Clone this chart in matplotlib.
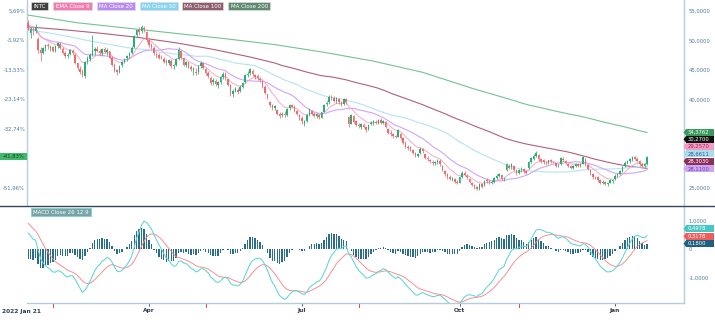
import numpy as np
import pandas as pd
import matplotlib
matplotlib.use("Agg")
import matplotlib.pyplot as plt
from matplotlib.patches import Rectangle, Polygon

# ---------------- data ----------------
holidays = ["2022-02-21", "2022-04-15", "2022-05-30", "2022-06-20", "2022-07-04",
            "2022-09-05", "2022-11-24", "2022-12-26", "2023-01-02", "2023-01-16"]
dates = pd.bdate_range("2022-01-21", "2023-01-23")
dates = dates[~dates.isin(pd.to_datetime(holidays))]

opens = [
    52.9, 51.3, 51.5, 51.6, 50.3, 48.4,
    47.9, 48.8, 49.2, 48.7, 48.9,
    48.3, 49.0, 49.4, 48.6, 47.9,
    47.3, 47.7, 48.3, 47.6, 46.1,
    45.2, 44.9, 43.9, 46.3,
    46.8, 47.6, 48.2, 48.6, 48.2,
    47.8, 48.6, 48.1, 48.2, 47.0,
    45.9, 45.0, 44.7, 45.8, 46.3,
    47.0, 47.3, 47.9, 48.9, 50.9,
    51.7, 51.6, 52.1, 51.5, 50.0,
    49.3, 48.8, 47.7, 47.5, 47.2,
    46.9, 46.5, 46.2, 46.6,
    45.6, 45.9, 46.9, 48.2, 47.0,
    45.8, 46.3, 45.5, 45.0, 44.6,
    44.6, 45.6, 46.1, 45.1, 44.5,
    43.7, 43.0, 43.2, 42.5, 42.9,
    43.8, 44.3, 43.4, 42.4, 40.9,
    41.5, 41.6, 41.4, 42.2, 43.0,
    44.2, 44.5, 44.9, 44.1,
    43.9, 43.5, 43.2, 42.2, 40.9,
    39.6, 39.0, 38.6, 38.3, 37.5,
    37.3, 37.6, 37.3, 38.5,
    39.0, 38.8, 38.0, 37.4, 36.8,
    36.0, 36.4, 37.4, 38.1,
    37.5, 37.2, 37.4, 36.9, 37.9,
    39.2, 39.5, 40.4, 40.3, 39.8,
    40.1, 39.5, 39.2, 40.0, 37.0,
    35.9, 37.2, 36.3, 35.7, 35.4,
    35.7, 35.3, 34.9, 35.8, 36.1,
    36.2, 36.0, 36.5, 36.1, 36.2,
    35.0, 34.4, 34.1, 33.8, 33.7,
    34.2, 33.4, 32.7, 32.0, 31.9,
    31.4, 30.9, 30.5, 30.9,
    31.6, 30.8, 30.1, 29.8, 29.4,
    29.2, 29.4, 29.6, 28.8, 27.9,
    27.3, 26.9, 26.4, 26.6, 26.1,
    25.9, 26.9, 27.5, 27.1, 26.6,
    25.9, 25.5, 25.1, 24.8, 25.6,
    25.5, 26.3, 26.2, 25.9, 26.0,
    26.7, 27.1, 27.2, 26.5, 28.0,
    28.8, 28.5, 28.8, 28.0, 27.6,
    28.0, 28.2, 27.8, 28.4, 29.4,
    30.0, 30.5, 30.6, 29.9, 29.7,
    29.3, 29.3, 29.7, 29.4,
    29.2, 28.8, 29.0, 30.0, 29.6,
    29.0, 28.7, 28.4, 28.8, 29.1,
    28.8, 29.1, 30.0, 28.9, 28.0,
    27.3, 26.9, 26.8, 26.3, 25.9,
    26.0, 25.7, 25.9, 26.2,
    26.6, 27.0, 27.4, 27.9,
    28.7, 29.2, 29.6, 29.8, 30.2,
    30.0, 29.6, 29.1, 28.8, 29.1,
]
highs = [
    53.4, 52.2, 52.3, 52.8, 50.6, 48.9,
    48.9, 49.4, 49.6, 49.3, 49.0,
    49.2, 49.8, 49.7, 48.9, 48.3,
    47.9, 48.6, 48.6, 47.8, 46.4,
    45.6, 45.2, 46.5, 47.3,
    47.8, 51.0, 48.9, 49.1, 48.6,
    48.8, 48.9, 48.7, 48.3, 47.3,
    46.1, 45.2, 45.9, 46.5, 47.1,
    47.5, 48.0, 49.0, 51.0, 52.0,
    52.2, 52.7, 52.4, 51.6, 50.2,
    49.6, 49.0, 48.1, 47.8, 47.6,
    47.2, 46.9, 46.9, 46.8,
    46.0, 47.0, 48.9, 48.4, 47.2,
    46.6, 46.4, 45.8, 45.5, 45.3,
    45.9, 46.5, 46.2, 45.3, 44.8,
    43.9, 43.6, 43.5, 43.1, 44.0,
    44.6, 44.7, 43.5, 42.6, 41.7,
    42.2, 41.9, 42.4, 43.0, 44.3,
    44.8, 45.3, 45.1, 44.4,
    44.3, 43.8, 43.3, 42.4, 41.0,
    39.8, 39.3, 39.1, 38.4, 37.9,
    37.8, 38.0, 38.6, 39.2,
    39.3, 39.0, 38.3, 37.6, 37.2,
    36.5, 37.6, 38.5, 38.3,
    37.8, 37.7, 37.6, 37.9, 39.2,
    39.8, 40.7, 40.8, 40.6, 40.4,
    40.3, 39.8, 40.2, 40.3, 37.2,
    37.6, 37.4, 36.5, 36.0, 36.0,
    36.1, 35.5, 35.9, 36.4, 36.5,
    36.6, 36.7, 36.8, 36.6, 36.3,
    35.1, 34.8, 34.3, 34.0, 35.0,
    34.3, 33.6, 32.9, 32.3, 32.1,
    31.6, 31.1, 31.0, 31.9,
    31.8, 30.9, 30.4, 30.0, 29.7,
    29.6, 29.9, 29.9, 28.9, 28.1,
    27.5, 27.2, 26.9, 26.7, 26.4,
    27.0, 27.8, 27.8, 27.3, 26.7,
    26.1, 25.7, 25.4, 25.8, 25.9,
    26.3, 26.7, 26.5, 26.3, 26.8,
    27.3, 27.6, 27.3, 26.8, 29.3,
    29.0, 29.2, 28.9, 28.2, 28.2,
    28.5, 28.4, 28.0, 29.6, 30.3,
    30.7, 31.3, 30.7, 30.1, 29.9,
    29.6, 29.8, 29.9, 29.6,
    29.3, 29.1, 30.2, 30.3, 29.8,
    29.2, 28.9, 28.9, 29.3, 29.2,
    29.2, 30.4, 30.1, 29.1, 28.1,
    27.5, 27.1, 27.0, 26.5, 26.3,
    26.2, 26.0, 26.5, 26.6,
    27.3, 27.6, 28.0, 28.8,
    29.5, 29.8, 30.1, 30.5, 30.4,
    30.2, 29.7, 29.2, 29.3, 30.5,
]
lows = [
    51.8, 50.5, 50.9, 51.2, 47.9, 46.5,
    47.7, 48.3, 48.6, 48.2, 48.0,
    48.1, 48.8, 48.5, 47.7, 47.0,
    47.0, 47.5, 47.6, 46.0, 45.0,
    44.3, 43.8, 43.7, 46.0,
    46.6, 47.3, 47.6, 48.0, 47.5,
    47.4, 47.9, 47.6, 46.8, 45.7,
    44.6, 44.1, 44.5, 45.5, 46.1,
    46.6, 47.0, 47.7, 48.7, 50.6,
    51.0, 51.3, 51.5, 49.8, 48.9,
    48.5, 47.6, 47.1, 46.9, 46.8,
    46.2, 45.8, 45.9, 45.4,
    45.2, 45.7, 46.7, 46.9, 45.7,
    45.5, 45.3, 44.9, 44.2, 44.2,
    44.4, 45.4, 45.1, 44.2, 43.6,
    42.5, 42.5, 42.3, 42.0, 42.7,
    43.5, 43.3, 42.3, 40.6, 40.4,
    41.2, 41.0, 41.2, 42.0, 42.8,
    43.8, 44.2, 44.0, 43.5,
    43.3, 43.0, 42.0, 40.9, 40.0,
    38.8, 38.2, 38.3, 37.3, 36.9,
    37.0, 37.1, 37.2, 38.3,
    38.5, 37.9, 37.3, 36.5, 35.9,
    35.5, 36.2, 37.2, 37.3,
    37.0, 36.9, 36.7, 36.8, 37.8,
    38.9, 39.3, 39.9, 39.6, 39.4,
    39.3, 38.9, 39.0, 39.3, 35.3,
    35.8, 36.0, 35.5, 35.2, 35.0,
    35.2, 34.5, 34.8, 35.6, 35.7,
    35.8, 35.9, 35.8, 35.9, 35.1,
    34.2, 33.8, 33.5, 33.5, 33.6,
    33.2, 32.5, 31.8, 31.5, 31.2,
    30.7, 30.2, 30.2, 30.8,
    31.0, 29.9, 29.6, 29.2, 28.9,
    28.9, 29.1, 28.8, 27.8, 27.1,
    26.6, 26.3, 26.2, 25.9, 25.6,
    25.8, 26.7, 27.0, 26.6, 25.8,
    25.3, 24.9, 24.7, 24.6, 25.0,
    25.4, 25.9, 25.7, 25.7, 25.9,
    26.5, 26.9, 26.3, 26.2, 27.9,
    28.2, 28.3, 27.9, 27.2, 27.4,
    27.7, 27.6, 27.3, 28.3, 29.2,
    29.8, 30.3, 29.6, 29.3, 29.1,
    28.9, 29.1, 29.3, 29.2,
    28.6, 28.6, 28.9, 29.6, 29.0,
    28.5, 28.2, 28.3, 28.6, 28.6,
    28.6, 29.0, 28.8, 28.0, 27.2,
    26.6, 26.5, 26.1, 25.6, 25.7,
    25.5, 25.4, 25.8, 25.9,
    26.4, 26.8, 27.2, 27.7,
    28.6, 29.0, 29.3, 29.6, 29.7,
    29.4, 28.8, 28.5, 28.5, 28.9,
]
closes = [
    52.04, 51.9, 51.4, 52.3, 48.4, 47.8,
    48.8, 49.2, 49.0, 48.9, 48.3,
    49.0, 49.6, 48.7, 47.9, 47.3,
    47.6, 48.4, 47.8, 46.2, 45.3,
    44.6, 44.1, 46.3, 47.1,
    47.6, 48.3, 48.6, 48.3, 47.9,
    48.6, 48.0, 48.4, 47.0, 45.9,
    44.9, 44.6, 45.7, 46.3, 46.9,
    47.3, 47.8, 48.7, 50.8, 51.8,
    51.4, 52.3, 51.9, 50.0, 49.3,
    48.9, 47.8, 47.6, 47.1, 47.0,
    46.4, 46.1, 46.7, 45.6,
    45.8, 46.8, 48.4, 47.1, 45.9,
    46.4, 45.4, 45.1, 45.3, 44.5,
    45.7, 46.2, 45.3, 44.5, 43.9,
    42.8, 43.3, 42.6, 42.9, 43.8,
    44.3, 43.6, 42.5, 40.9, 41.4,
    41.9, 41.3, 42.2, 42.8, 44.1,
    44.4, 45.1, 44.3, 43.8,
    43.6, 43.3, 42.2, 41.1, 40.2,
    39.0, 38.5, 38.9, 37.5, 37.2,
    37.6, 37.3, 38.4, 39.0,
    38.8, 38.1, 37.5, 36.8, 36.3,
    36.3, 37.4, 38.2, 37.6,
    37.2, 37.5, 37.0, 37.8, 39.0,
    39.4, 40.5, 40.3, 39.8, 40.2,
    39.5, 39.1, 40.0, 39.6, 35.9,
    37.4, 36.2, 35.7, 35.5, 35.8,
    35.4, 34.8, 35.7, 36.1, 36.3,
    36.0, 36.5, 36.1, 36.4, 35.3,
    34.4, 34.1, 33.8, 33.7, 34.8,
    33.4, 32.7, 32.0, 31.8, 31.4,
    30.9, 30.5, 30.8, 31.6,
    31.2, 30.1, 29.9, 29.5, 29.3,
    29.4, 29.6, 29.0, 28.0, 27.4,
    26.8, 26.5, 26.7, 26.1, 25.8,
    26.8, 27.6, 27.2, 26.8, 26.0,
    25.5, 25.1, 24.9, 25.6, 25.2,
    26.1, 26.2, 25.9, 26.1, 26.7,
    27.1, 27.4, 26.5, 26.6, 29.0,
    28.4, 29.0, 28.1, 27.5, 28.0,
    28.3, 27.8, 27.5, 29.4, 30.1,
    30.5, 31.0, 29.9, 29.6, 29.4,
    29.2, 29.7, 29.5, 29.3,
    28.8, 28.9, 30.1, 29.8, 29.2,
    28.7, 28.4, 28.8, 29.1, 28.8,
    29.0, 30.2, 29.0, 28.2, 27.4,
    26.8, 26.7, 26.3, 25.8, 26.1,
    25.7, 25.8, 26.3, 26.4,
    27.0, 27.4, 27.8, 28.6,
    29.3, 29.6, 29.9, 30.3, 30.0,
    29.6, 29.0, 28.7, 29.1, 30.27,
]

ma50_head_pos = [0, 8, 16, 24, 32, 40, 48]
ma50_head = [51.8, 51.3, 50.7, 50.0, 49.4, 48.8, 48.4]
ma100_head_pos = [0, 15, 30, 45, 60, 75, 90, 98]
ma100_head = [52.3, 51.8, 51.2, 50.5, 49.6, 48.5, 47.2, 46.4]
ma200_head_pos = [0, 20, 40, 60, 80, 100, 120, 140, 160, 180, 198]
ma200_head = [54.3, 53.0, 52.1, 51.2, 50.3, 49.3, 48.0, 46.5, 44.6, 41.9, 39.7]
ema9_start = 52.6
macd_start = 0.56
signal_start = 0.90

# last-value labels shown on the right axis
price_badges = [34.3762, 30.2700, 29.2570, 28.6611, 28.3030, 28.1100]
macd_badges = [0.4978, 0.3178, 0.1800]
pct_badge = -41.83

dividend_dates = ["2022-02-04", "2022-05-05", "2022-08-04", "2022-11-04"]
tick_dates = ["2022-04-01", "2022-07-01", "2022-10-03", "2023-01-03"]
tick_labels = ["Apr", "Jul", "Oct", "Jan"]

# ---------------- computations ----------------
o = np.array(opens); h = np.array(highs); l = np.array(lows); c = np.array(closes)
n = len(c)
idx = np.arange(n)
s = pd.Series(c)


def ema(vals, span, start):
    a = 2.0 / (span + 1)
    out = [start]
    for v in vals[1:]:
        out.append(out[-1] + a * (v - out[-1]))
    return np.array(out)


ema9 = ema(c, 9, ema9_start)
ma20 = s.rolling(20, min_periods=1).mean().values


def long_ma(win, head_pos, head_vals):
    comp = s.rolling(win).mean().values
    xs = list(head_pos) + list(range(win - 1, n))
    ys = list(head_vals) + list(comp[win - 1:])
    return np.array(xs), np.array(ys)


ma50_x, ma50_y = long_ma(50, ma50_head_pos, ma50_head)
ma100_x, ma100_y = long_ma(100, ma100_head_pos, ma100_head)
ma200_x, ma200_y = long_ma(200, ma200_head_pos, ma200_head)

ema12 = ema(c, 12, c[0] + macd_start)
ema26 = ema(c, 26, c[0])
macd = ema12 - ema26
a9 = 2.0 / 10
sig = [signal_start]
for v in macd[1:]:
    sig.append(sig[-1] + a9 * (v - sig[-1]))
sig = np.array(sig)
hist = macd - sig

pos = {d: i for i, d in enumerate(dates)}
div_idx = [pos[pd.Timestamp(d)] for d in dividend_dates]
tick_idx = [pos[pd.Timestamp(d)] for d in tick_dates]

# ---------------- figure ----------------
W, H = 715, 323
fig = plt.figure(figsize=(W / 100, H / 100), dpi=100)
fig.patch.set_facecolor("white")


def fx(px):
    return px / W


def fy(py):
    return 1 - py / H


ax = fig.add_axes([fx(27), fy(205), fx(684) - fx(27), 205 / H])
ax2 = fig.add_axes([fx(27), fy(303), fx(684) - fx(27), (303 - 206) / H])

x0 = (27 - 28.2) / 2.4656
x1 = (684 - 28.2) / 2.4656
for a in (ax, ax2):
    a.set_xlim(x0, x1)
    a.set_facecolor("white")
ax.set_ylim(22.12, 56.86)
ax2.set_ylim(-1.895, 1.509)

UP, DN = "#27ae72", "#ef6b6b"
cols = np.where(c >= o, UP, DN)
ax.vlines(idx, l, h, colors=cols, linewidth=0.55, zorder=3)
body = np.maximum(np.abs(c - o), 0.06)
ax.bar(idx, body, bottom=np.minimum(o, c), width=0.62, color=cols, linewidth=0, zorder=4)

ax.plot(ma200_x, ma200_y, color="#74c294", lw=0.8, zorder=2)
ax.plot(ma100_x, ma100_y, color="#b06079", lw=0.8, zorder=2)
ax.plot(ma50_x, ma50_y, color="#b5e3f3", lw=0.8, zorder=2)
ax.plot(idx, ma20, color="#cfa6f6", lw=0.8, zorder=2)
ax.plot(idx, ema9, color="#f7a8c9", lw=0.7, zorder=2)

AXC = "#b4ccdd"
TXT = "#4f7aa3"
for a in (ax, ax2):
    for sp in a.spines.values():
        sp.set_visible(False)
ax.spines["left"].set_visible(True); ax.spines["left"].set_color(AXC); ax.spines["left"].set_linewidth(1.0)
ax.spines["right"].set_visible(True); ax.spines["right"].set_color(AXC); ax.spines["right"].set_linewidth(1.0)
ax2.spines["right"].set_visible(True); ax2.spines["right"].set_color(AXC); ax2.spines["right"].set_linewidth(1.0)
ax2.spines["bottom"].set_visible(True); ax2.spines["bottom"].set_color(AXC); ax2.spines["bottom"].set_linewidth(1.0)

# right price labels
pticks = [55, 50, 45, 40, 25]
ax.yaxis.tick_right()
ax.set_yticks(pticks)
ax.set_yticklabels([f"{v:.4f}".replace(".", ",") for v in pticks])
ax.tick_params(axis="y", length=0, pad=3.5, labelsize=3.8, labelcolor=TXT)
ax.set_xticks([])

# left percent labels
base = c[0]
for p in [55, 50, 45, 40, 35, 25]:
    pct = (p / base - 1) * 100
    ax.text(-0.003, p, f"{pct:.2f}%".replace(".", ","), transform=ax.get_yaxis_transform(),
            ha="right", va="center", fontsize=3.8, color=TXT)

# MACD
ax2.bar(idx, hist, width=0.55, color="#2a6c8c", linewidth=0, zorder=2)
ax2.plot(idx, sig, color="#f4898a", lw=0.65, zorder=3)
ax2.plot(idx, macd, color="#5fd6d2", lw=0.75, zorder=4)
ax2.yaxis.tick_right()
ax2.set_yticks([1, 0, -1])
ax2.set_yticklabels(["1,0000", "0", "-1,0000"])
ax2.tick_params(axis="y", length=0, pad=3.5, labelsize=3.8, labelcolor=TXT)
ax2.set_xticks(tick_idx)
ax2.set_xticklabels(tick_labels)
ax2.tick_params(axis="x", length=2.2, width=0.6, color="#34495e", pad=1.5,
                labelsize=4.2, labelcolor="#2c3e50")
for t in ax2.get_xticklabels():
    t.set_fontweight("bold")
for di in div_idx:
    ax2.plot([di, di], [-0.012, -0.04], transform=ax2.get_xaxis_transform(),
             color="#e8453c", lw=0.7, clip_on=False)
fig.text(fx(2), fy(311), "2022 Jan 21", fontsize=4.2, fontweight="bold", color="#2c3e50",
         ha="left", va="center")

# separator line
fig.add_artist(plt.Line2D([0, 1], [fy(205.5), fy(205.5)], transform=fig.transFigure,
                          color="#34495e", lw=1.0))


def box(x0p, y0p, x1p, y1p, fc, ec="none", z=10):
    fig.add_artist(Rectangle((fx(x0p), fy(y1p)), fx(x1p) - fx(x0p), fy(y0p) - fy(y1p),
                             transform=fig.transFigure, facecolor=fc, edgecolor=ec,
                             linewidth=0.5, zorder=z))


# legend boxes
legend = [("INTC", 30.7, 48.3, "#3f3f3f"), ("EMA Close 9", 53.3, 91.7, "#f27bb0"),
          ("MA Close 20", 96.7, 135.0, "#b98af2"), ("MA Close 50", 140.0, 178.3, "#86d3f2"),
          ("MA Close 100", 182.3, 223.3, "#8e5e70"), ("MA Close 200", 228.3, 270.0, "#5f8a6f")]
for txt, a0, a1, colr in legend:
    box(a0, 1.8, a1, 10.0, colr, ec="#dddddd")
    fig.text(fx((a0 + a1) / 2), fy(6.0), txt, fontsize=4.0, color="white",
             ha="center", va="center", zorder=11)

box(30.7, 208.3, 90.7, 216.0, "#7aa3a6", ec="#6fd3d3")
fig.text(fx(60.7), fy(212.2), "MACD Close 26 12 9", fontsize=4.0, color="white",
         ha="center", va="center", zorder=11)


def badge(yc, text, fc, tc):
    box(686, yc - 3.5, 713.5, yc + 3.5, fc)
    fig.add_artist(Polygon([(fx(683.5), fy(yc)), (fx(686.2), fy(yc - 3.5)), (fx(686.2), fy(yc + 3.5))],
                           closed=True, transform=fig.transFigure, facecolor=fc,
                           edgecolor="none", zorder=10))
    fig.text(fx(687.5), fy(yc), text, fontsize=3.8, color=tc, ha="left", va="center", zorder=11)


def fmt4(v):
    return f"{v:.4f}".replace(".", ",")


badge_style = [(132.3, "#3a9a5e", "white"), (139.3, "#111111", "white"),
               (146.5, "#f59cc3", "#9c2b60"), (153.8, "#a9dcf0", "#2f6283"),
               (161.2, "#8e2f57", "white"), (168.8, "#cda5f5", "#6c3fa5")]
for v, (yc, fc, tc) in zip(price_badges, badge_style):
    badge(yc, fmt4(v), fc, tc)

macd_style = [(228.7, "#46c6c4", "white"), (236.2, "#f05e5a", "white"), (243.7, "#1f5f82", "white")]
for v, (yc, fc, tc) in zip(macd_badges, macd_style):
    badge(yc, fmt4(v), fc, tc)

# left current-value badge
box(0, 152.5, 26.5, 160.3, "#3dbb6a")
fig.text(fx(13.2), fy(156.4), f"{pct_badge:.2f}%".replace(".", ","),
         fontsize=3.8, color="#173d22", ha="center", va="center", zorder=11)

fig.savefig("out.png", dpi=100)
